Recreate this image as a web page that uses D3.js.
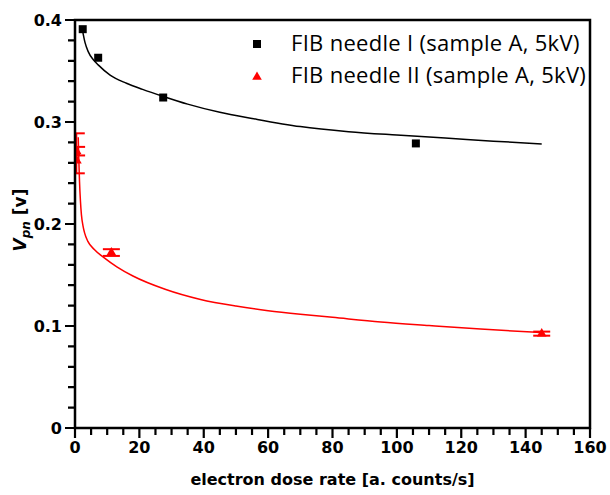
<!DOCTYPE html>
<html>
	<head>
		<meta charset="utf-8" />
		<title>Vpn vs electron dose rate</title>
		<script src="https://d3js.org/d3.v7.min.js"></script>
		<style>
			body { margin: 0; background: #fff; }
		</style>
	</head>
	<body>
		<svg width="610" height="495"></svg>
		<script>
			// measured points
			const needle1X = [2.4, 7.2, 27.4, 105.9];
			const needle1Y = [0.391, 0.363, 0.324, 0.279];

			const needle2X = [0.4, 0.5, 11.3, 145];
			const needle2Y = [0.2693, 0.2714, 0.172, 0.0925];
			const needle2Err = [0.0196, 0.0042, 0.0033, 0.002];
			const needle2ExtraX = [0.6];
			const needle2ExtraY = [0.262];

			// fit curves
			const fit1X = [2.2, 3.1, 4.1, 5.7, 7.2, 10.9, 16, 21, 27.5, 35, 45, 55, 70, 85, 100, 115, 130, 145];
			const fit1Y = [0.392, 0.378, 0.369, 0.361, 0.356, 0.346, 0.338, 0.332, 0.325, 0.3175, 0.3095, 0.3035, 0.2955, 0.2905, 0.2872, 0.2843, 0.2812, 0.2785];
			const fit2X = [1.0, 1.2, 1.4, 1.7, 2.0, 2.5, 3, 4, 6, 9, 13, 18, 28, 39, 50, 60, 70, 80, 95, 110, 126, 145];
			const fit2Y = [0.285, 0.262, 0.242, 0.222, 0.209, 0.198, 0.191, 0.183, 0.175, 0.167, 0.158, 0.149, 0.136, 0.126, 0.1195, 0.115, 0.1115, 0.1085, 0.104, 0.1005, 0.097, 0.0935];

			const xTicks = [0, 20, 40, 60, 80, 100, 120, 140, 160];
			const yTicks = [0, 0.1, 0.2, 0.3, 0.4];
			const legendLabels = ["FIB needle I (sample A, 5kV)", "FIB needle II (sample A, 5kV)"];

			const svg = d3.select("svg");
			const plotLeft = 75, plotRight = 590, plotTop = 20, plotBottom = 428;

			const x = d3.scaleLinear().domain([0, 160]).range([plotLeft, plotRight]);
			const y = d3.scaleLinear().domain([0, 0.4]).range([plotBottom, plotTop]);

			const tickFont = "'DejaVu Sans', Verdana, sans-serif";
			const xMinor = d3.range(0, 161, 5);
			const yMinor = d3.range(0, 21).map((i) => i * 0.02);

			svg.append("defs")
				.append("clipPath")
				.attr("id", "plot-clip")
				.append("rect")
				.attr("x", plotLeft)
				.attr("y", plotTop)
				.attr("width", plotRight - plotLeft)
				.attr("height", plotBottom - plotTop);

			// tick labels
			svg.append("g")
				.selectAll("text")
				.data(xTicks)
				.join("text")
				.attr("x", (d) => x(d))
				.attr("y", plotBottom + 14)
				.attr("dy", "0.71em")
				.attr("text-anchor", "middle")
				.style("font-family", tickFont)
				.style("font-weight", "bold")
				.style("font-size", "16px")
				.text((d) => d);
			svg.append("g")
				.selectAll("text")
				.data(yTicks)
				.join("text")
				.attr("x", plotLeft - 13)
				.attr("y", (d) => y(d))
				.attr("dy", "0.36em")
				.attr("text-anchor", "end")
				.style("font-family", tickFont)
				.style("font-weight", "bold")
				.style("font-size", "16px")
				.text((d) => (d === 0 ? "0" : d3.format(".1f")(d)));

			// axis titles
			svg.append("text")
				.attr("x", (plotLeft + plotRight) / 2)
				.attr("y", 485)
				.attr("text-anchor", "middle")
				.style("font-family", tickFont)
				.style("font-weight", "bold")
				.style("font-size", "16px")
				.text("electron dose rate [a. counts/s]");

			const yTitle = svg.append("text")
				.attr("transform", "translate(26,220) rotate(-90)")
				.attr("text-anchor", "middle")
				.style("font-family", tickFont)
				.style("font-weight", "bold")
				.style("font-size", "17px");
			yTitle.append("tspan").style("font-style", "italic").text("V");
			yTitle.append("tspan").style("font-style", "italic").style("font-size", "12px").attr("dy", 4).text("pn");
			yTitle.append("tspan").attr("dy", -4).text(" [v]");

			const plot = svg.append("g").attr("clip-path", "url(#plot-clip)");

			// fit lines
			const line = d3.line().x((d) => x(d[0])).y((d) => y(d[1])).curve(d3.curveMonotoneX);
			plot.append("path")
				.attr("d", line(d3.zip(fit1X, fit1Y)))
				.attr("fill", "none")
				.attr("stroke", "#000")
				.attr("stroke-width", 1.5);
			plot.append("path")
				.attr("d", line(d3.zip(fit2X, fit2Y)))
				.attr("fill", "none")
				.attr("stroke", "red")
				.attr("stroke-width", 1.5);

			// error bars for needle II
			const errG = plot.append("g").attr("stroke", "red").attr("stroke-width", 2);
			needle2X.forEach((xv, i) => {
				const e = needle2Err[i];
				const cx = x(xv);
				errG.append("line").attr("x1", cx).attr("x2", cx).attr("y1", y(needle2Y[i] - e)).attr("y2", y(needle2Y[i] + e));
				[needle2Y[i] - e, needle2Y[i] + e].forEach((v) => {
					errG.append("line").attr("x1", cx - 8.5).attr("x2", cx + 8.5).attr("y1", y(v)).attr("y2", y(v));
				});
			});

			// markers
			const square = d3.symbol(d3.symbolSquare, 64);
			const triangle = d3.symbol(d3.symbolTriangle, 40);

			plot.append("g")
				.selectAll("path")
				.data(d3.zip(needle1X, needle1Y))
				.join("path")
				.attr("transform", (d) => `translate(${x(d[0])},${y(d[1])})`)
				.attr("d", square)
				.attr("fill", "#000");

			plot.append("g")
				.selectAll("path")
				.data(d3.zip(needle2X, needle2Y).concat(d3.zip(needle2ExtraX, needle2ExtraY)))
				.join("path")
				.attr("transform", (d) => `translate(${x(d[0])},${y(d[1])})`)
				.attr("d", triangle)
				.attr("fill", "red");

			// frame
			svg.append("rect")
				.attr("x", plotLeft)
				.attr("y", plotTop)
				.attr("width", plotRight - plotLeft)
				.attr("height", plotBottom - plotTop)
				.attr("fill", "none")
				.attr("stroke", "#000")
				.attr("stroke-width", 2.5);

			// ticks, one path per axis, drawn on top
			const xTickPath = d3.path();
			xMinor.forEach((d) => {
				xTickPath.moveTo(x(d), plotBottom);
				xTickPath.lineTo(x(d), plotBottom + (xTicks.includes(d) ? 10 : 7));
			});
			const yTickPath = d3.path();
			yMinor.forEach((d, i) => {
				yTickPath.moveTo(plotLeft, y(d));
				yTickPath.lineTo(plotLeft - (i % 5 === 0 ? 10 : 7), y(d));
			});
			svg.append("path")
				.attr("d", xTickPath.toString() + yTickPath.toString())
				.attr("fill", "none")
				.attr("stroke", "#000")
				.attr("stroke-width", 2.2);

			// legend
			const legend = svg.append("g").attr("transform", "translate(257,0)");
			legend.append("path").attr("transform", "translate(0,44)").attr("d", square).attr("fill", "#000");
			legend.append("path").attr("transform", "translate(0,77)").attr("d", triangle).attr("fill", "red");
			legend.selectAll("text")
				.data(legendLabels)
				.join("text")
				.attr("x", 34)
				.attr("y", (d, i) => 51 + i * 32)
				.style("font-family", "'Open Sans', Lato, sans-serif")
				.style("font-size", "22px")
				.style("letter-spacing", "0.3px")
				.attr("fill", "#000")
				.text((d) => d);
		</script>
	</body>
</html>
